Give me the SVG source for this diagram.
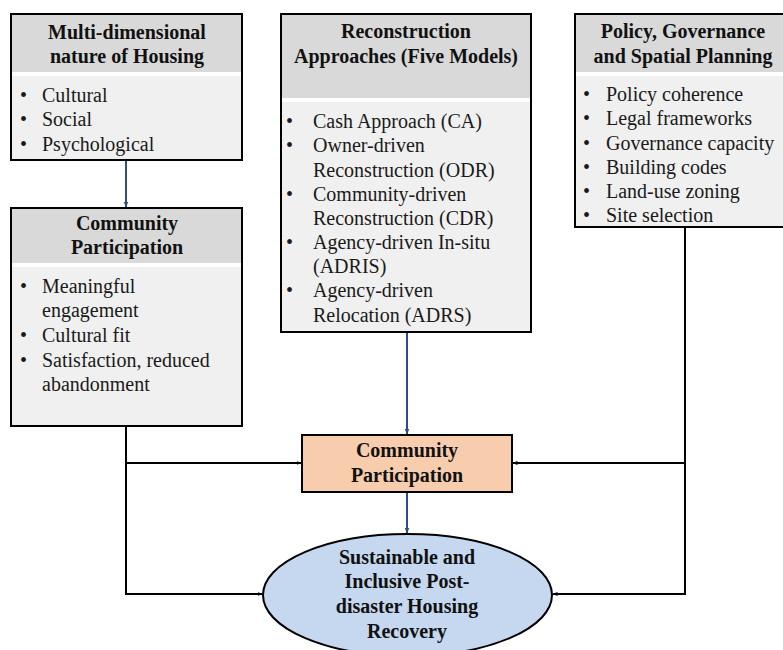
<svg xmlns="http://www.w3.org/2000/svg" width="783" height="650" viewBox="0 0 783 650">
<defs>
<marker id="ab" viewBox="0 0 10 10" refX="9" refY="5" markerWidth="5" markerHeight="5" orient="auto" markerUnits="userSpaceOnUse"><path d="M0,1 L10,5 L0,9 z" fill="#000"/></marker>
<marker id="au" viewBox="0 0 10 10" refX="9" refY="5" markerWidth="6" markerHeight="6" orient="auto" markerUnits="userSpaceOnUse"><path d="M0,1 L10,5 L0,9 z" fill="#2f4f7f"/></marker>
<style>
.box{fill:#f0f0f0;stroke:#000;stroke-width:2}
.hdr{fill:#d9d9d9}
.gap{fill:#fff}
.h{font-family:'Times New Roman','Liberation Serif',Tinos,'DejaVu Serif',serif;font-weight:bold;font-size:20px;fill:#111;text-anchor:middle}
.t{font-family:'Times New Roman','Liberation Serif',Tinos,'DejaVu Serif',serif;font-size:20px;fill:#1a1a1a}
.k{stroke:#000;stroke-width:2;fill:none}
.b{stroke:#2f4f7f;stroke-width:2;fill:none}
</style>
</defs>
<rect width="783" height="650" fill="#fff"/>
<g id="connectors">
<path class="b" d="M126,161 V207" marker-end="url(#au)"/>
<path class="b" d="M407,333 V434" marker-end="url(#au)"/>
<path class="b" d="M407,493 V533" marker-end="url(#au)"/>
<path class="k" d="M126,427 V594 H262" marker-end="url(#ab)"/>
<path class="k" d="M126,463 H301" marker-end="url(#ab)"/>
<path class="k" d="M685,228 V594 H553" marker-end="url(#ab)"/>
<path class="k" d="M685,463 H513" marker-end="url(#ab)"/>
</g>
<g id="multi-dimensional">
<rect class="box" x="11" y="14" width="231" height="146"/>
<rect class="hdr" x="12" y="15" width="229" height="57"/>
<rect class="gap" x="12" y="72" width="229" height="4"/>
<text class="h" x="127" y="39">Multi-dimensional</text>
<text class="h" x="127" y="63">nature of Housing</text>
<text class="t" x="20" y="102">•</text><text class="t" x="42" y="102">Cultural</text>
<text class="t" x="20" y="126">•</text><text class="t" x="42" y="126">Social</text>
<text class="t" x="20" y="151">•</text><text class="t" x="42" y="151">Psychological</text>
</g>
<g id="community-left">
<rect class="box" x="11" y="208" width="231" height="218"/>
<rect class="hdr" x="12" y="209" width="229" height="54"/>
<rect class="gap" x="12" y="263" width="229" height="4"/>
<text class="h" x="127" y="230">Community</text>
<text class="h" x="127" y="254">Participation</text>
<text class="t" x="20" y="293">•</text><text class="t" x="42" y="293">Meaningful</text>
<text class="t" x="42" y="317">engagement</text>
<text class="t" x="20" y="342">•</text><text class="t" x="42" y="342">Cultural fit</text>
<text class="t" x="20" y="367">•</text><text class="t" x="42" y="367">Satisfaction, reduced</text>
<text class="t" x="42" y="391">abandonment</text>
</g>
<g id="reconstruction">
<rect class="box" x="281" y="14" width="250" height="318"/>
<rect class="hdr" x="282" y="15" width="248" height="83"/>
<rect class="gap" x="282" y="98" width="248" height="4"/>
<text class="h" x="406" y="38">Reconstruction</text>
<text class="h" x="406" y="63">Approaches (Five Models)</text>
<text class="t" x="286" y="128">•</text><text class="t" x="313" y="128">Cash Approach (CA)</text>
<text class="t" x="286" y="152">•</text><text class="t" x="313" y="152">Owner-driven</text>
<text class="t" x="313" y="177">Reconstruction (ODR)</text>
<text class="t" x="286" y="201">•</text><text class="t" x="313" y="201">Community-driven</text>
<text class="t" x="313" y="225">Reconstruction (CDR)</text>
<text class="t" x="286" y="249">•</text><text class="t" x="313" y="249">Agency-driven In-situ</text>
<text class="t" x="313" y="273">(ADRIS)</text>
<text class="t" x="286" y="297">•</text><text class="t" x="313" y="297">Agency-driven</text>
<text class="t" x="313" y="322">Relocation (ADRS)</text>
</g>
<g id="policy">
<rect class="box" x="575" y="14" width="220" height="213"/>
<rect class="hdr" x="576" y="15" width="218" height="57"/>
<rect class="gap" x="576" y="72" width="218" height="4"/>
<text class="h" x="683" y="38">Policy, Governance</text>
<text class="h" x="683" y="63">and Spatial Planning</text>
<text class="t" x="583" y="101">•</text><text class="t" x="606" y="101">Policy coherence</text>
<text class="t" x="583" y="125">•</text><text class="t" x="606" y="125">Legal frameworks</text>
<text class="t" x="583" y="150">•</text><text class="t" x="606" y="150">Governance capacity</text>
<text class="t" x="583" y="174">•</text><text class="t" x="606" y="174">Building codes</text>
<text class="t" x="583" y="198">•</text><text class="t" x="606" y="198">Land-use zoning</text>
<text class="t" x="583" y="222">•</text><text class="t" x="606" y="222">Site selection</text>
</g>
<g id="community-center">
<rect x="302" y="435" width="210" height="57" fill="#f8cdae" stroke="#000" stroke-width="2"/>
<text class="h" x="407" y="457">Community</text>
<text class="h" x="407" y="482">Participation</text>
</g>
<g id="outcome">
<ellipse cx="407.5" cy="595" rx="144.5" ry="61" fill="#c6d8ef" stroke="#000" stroke-width="2"/>
<text class="h" x="407" y="564">Sustainable and</text>
<text class="h" x="407" y="588">Inclusive Post-</text>
<text class="h" x="407" y="613">disaster Housing</text>
<text class="h" x="407" y="638">Recovery</text>
</g>
</svg>
